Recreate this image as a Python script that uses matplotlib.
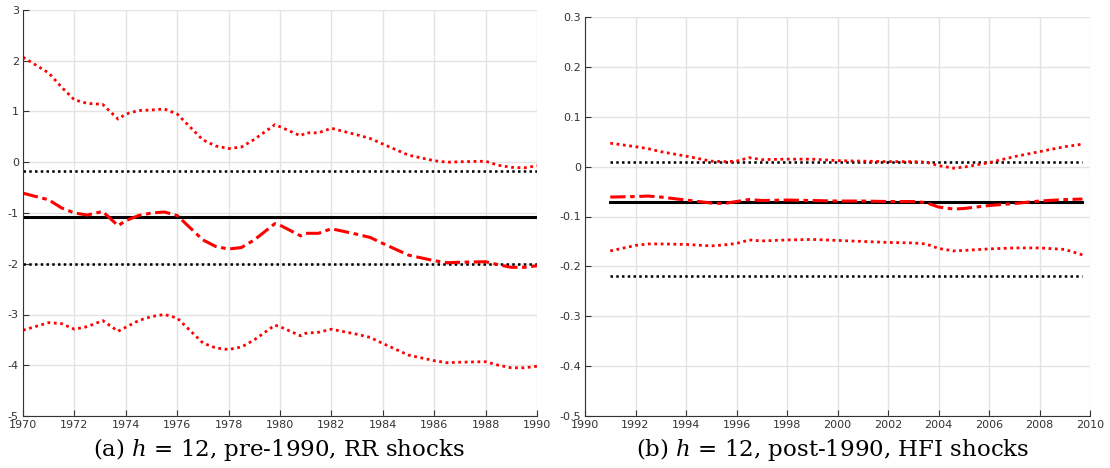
import matplotlib.pyplot as plt

# ---- panel (a): pre-1990, RR shocks ----
yr_a = [1970, 1971, 1971.5, 1972, 1972.5, 1973.1, 1973.7, 1974, 1974.5, 1975, 1975.5,
        1976, 1977, 1977.5, 1978, 1978.5, 1979, 1979.8, 1980, 1980.8, 1981, 1981.5,
        1982, 1983, 1983.5, 1984, 1985, 1986, 1986.5, 1987, 1988, 1988.5, 1989,
        1989.5, 1990]
upper_a = [2.07, 1.76, 1.48, 1.23, 1.16, 1.14, 0.85, 0.95, 1.02, 1.03, 1.05,
           0.95, 0.44, 0.32, 0.27, 0.30, 0.45, 0.74, 0.70, 0.52, 0.58, 0.58,
           0.67, 0.54, 0.47, 0.36, 0.14, 0.03, 0.00, 0.01, 0.02, -0.06, -0.10,
           -0.11, -0.07]
point_a = [-0.61, -0.74, -0.90, -1.00, -1.04, -0.97, -1.25, -1.15, -1.05, -1.00, -0.98,
           -1.05, -1.53, -1.66, -1.71, -1.68, -1.53, -1.21, -1.24, -1.45, -1.40, -1.40,
           -1.31, -1.42, -1.48, -1.60, -1.83, -1.94, -1.98, -1.97, -1.96, -2.02, -2.07,
           -2.07, -2.04]
lower_a = [-3.31, -3.16, -3.18, -3.29, -3.24, -3.12, -3.33, -3.25, -3.12, -3.04, -3.00,
           -3.07, -3.56, -3.66, -3.69, -3.64, -3.50, -3.21, -3.24, -3.42, -3.37, -3.35,
           -3.29, -3.39, -3.45, -3.57, -3.80, -3.91, -3.95, -3.94, -3.93, -4.00, -4.05,
           -4.05, -4.02]
const_a = -1.08
band_a = [-0.17, -2.00]

# ---- panel (b): post-1990, HFI shocks ----
yr_b = [1991, 1992, 1992.5, 1993, 1994, 1995, 1995.5, 1996, 1996.5, 1997, 1998, 1999,
        2000, 2001, 2002, 2003, 2003.5, 2004, 2004.6, 2005, 2006, 2007, 2008, 2009,
        2009.7]
upper_b = [0.047, 0.040, 0.036, 0.030, 0.021, 0.011, 0.010, 0.011, 0.018, 0.014, 0.015,
           0.015, 0.012, 0.011, 0.010, 0.010, 0.009, 0.002, -0.003, -0.001, 0.008,
           0.020, 0.030, 0.040, 0.045]
point_b = [-0.061, -0.060, -0.059, -0.061, -0.067, -0.073, -0.074, -0.070, -0.066,
           -0.068, -0.067, -0.068, -0.069, -0.069, -0.070, -0.070, -0.072, -0.081,
           -0.085, -0.084, -0.078, -0.074, -0.069, -0.066, -0.065]
lower_b = [-0.169, -0.158, -0.155, -0.155, -0.156, -0.159, -0.157, -0.154, -0.147,
           -0.149, -0.147, -0.146, -0.148, -0.150, -0.152, -0.153, -0.155, -0.164,
           -0.169, -0.168, -0.165, -0.163, -0.163, -0.166, -0.177]
const_b = -0.07
band_b = [0.01, -0.22]

captions = ["(a) $h$ = 12, pre-1990, RR shocks", "(b) $h$ = 12, post-1990, HFI shocks"]

plt.rcParams['mathtext.fontset'] = 'dejavuserif'

fig = plt.figure(figsize=(11.1, 4.68), dpi=100)
ax1 = fig.add_axes([23/1110, 1-416/468, 514/1110, 406/468])
ax2 = fig.add_axes([585/1110, 1-416/468, 505/1110, 399/468])

red_dot = dict(color='red', linestyle=(0, (1, 1.3)), linewidth=2)
red_dash = dict(color='red', linestyle=(0, (5, 1.5, 1.5, 1.5)), linewidth=2.2)
blk_dot = dict(color='black', linestyle=(0, (1, 1.3)), linewidth=1.8)


def panel(ax, yr, up, pt, lo, c, band, xr, yr_lim, yticks, ylabels, xline):
    ax.plot(xline, [band[0]]*2, **blk_dot)
    ax.plot(xline, [band[1]]*2, **blk_dot)
    ax.plot(xline, [c]*2, color='black', linewidth=2.2)
    ax.plot(yr, up, **red_dot)
    ax.plot(yr, lo, **red_dot)
    ax.plot(yr, pt, **red_dash)
    ax.set_xlim(*xr)
    ax.set_ylim(*yr_lim)
    ax.set_xticks(range(xr[0], xr[1]+1, 2))
    ax.set_yticks(yticks)
    ax.set_yticklabels(ylabels)
    ax.grid(True, color='#e3e3e3', linewidth=1)
    ax.set_axisbelow(True)
    for s in ['top', 'right']:
        ax.spines[s].set_visible(False)
    for s in ['left', 'bottom']:
        ax.spines[s].set_color('#333333')
    ax.tick_params(direction='in', length=4, labelsize=8, colors='#333333', pad=3)


panel(ax1, yr_a, upper_a, point_a, lower_a, const_a, band_a, (1970, 1990), (-5, 3),
      range(-5, 4), [str(v) for v in range(-5, 4)], [1970, 1990])
yt = [-0.5, -0.4, -0.3, -0.2, -0.1, 0, 0.1, 0.2, 0.3]
panel(ax2, yr_b, upper_b, point_b, lower_b, const_b, band_b, (1990, 2010), (-0.5, 0.3),
      yt, ['-0.5', '-0.4', '-0.3', '-0.2', '-0.1', '0', '0.1', '0.2', '0.3'], [1991, 2009.7])

fig.text(279/1110, 1-456/468, captions[0], ha='center', va='baseline',
         fontsize=16.5, family='DejaVu Serif')
fig.text(833/1110, 1-456/468, captions[1], ha='center', va='baseline',
         fontsize=16.5, family='DejaVu Serif')

fig.savefig('out.png', dpi=100)
